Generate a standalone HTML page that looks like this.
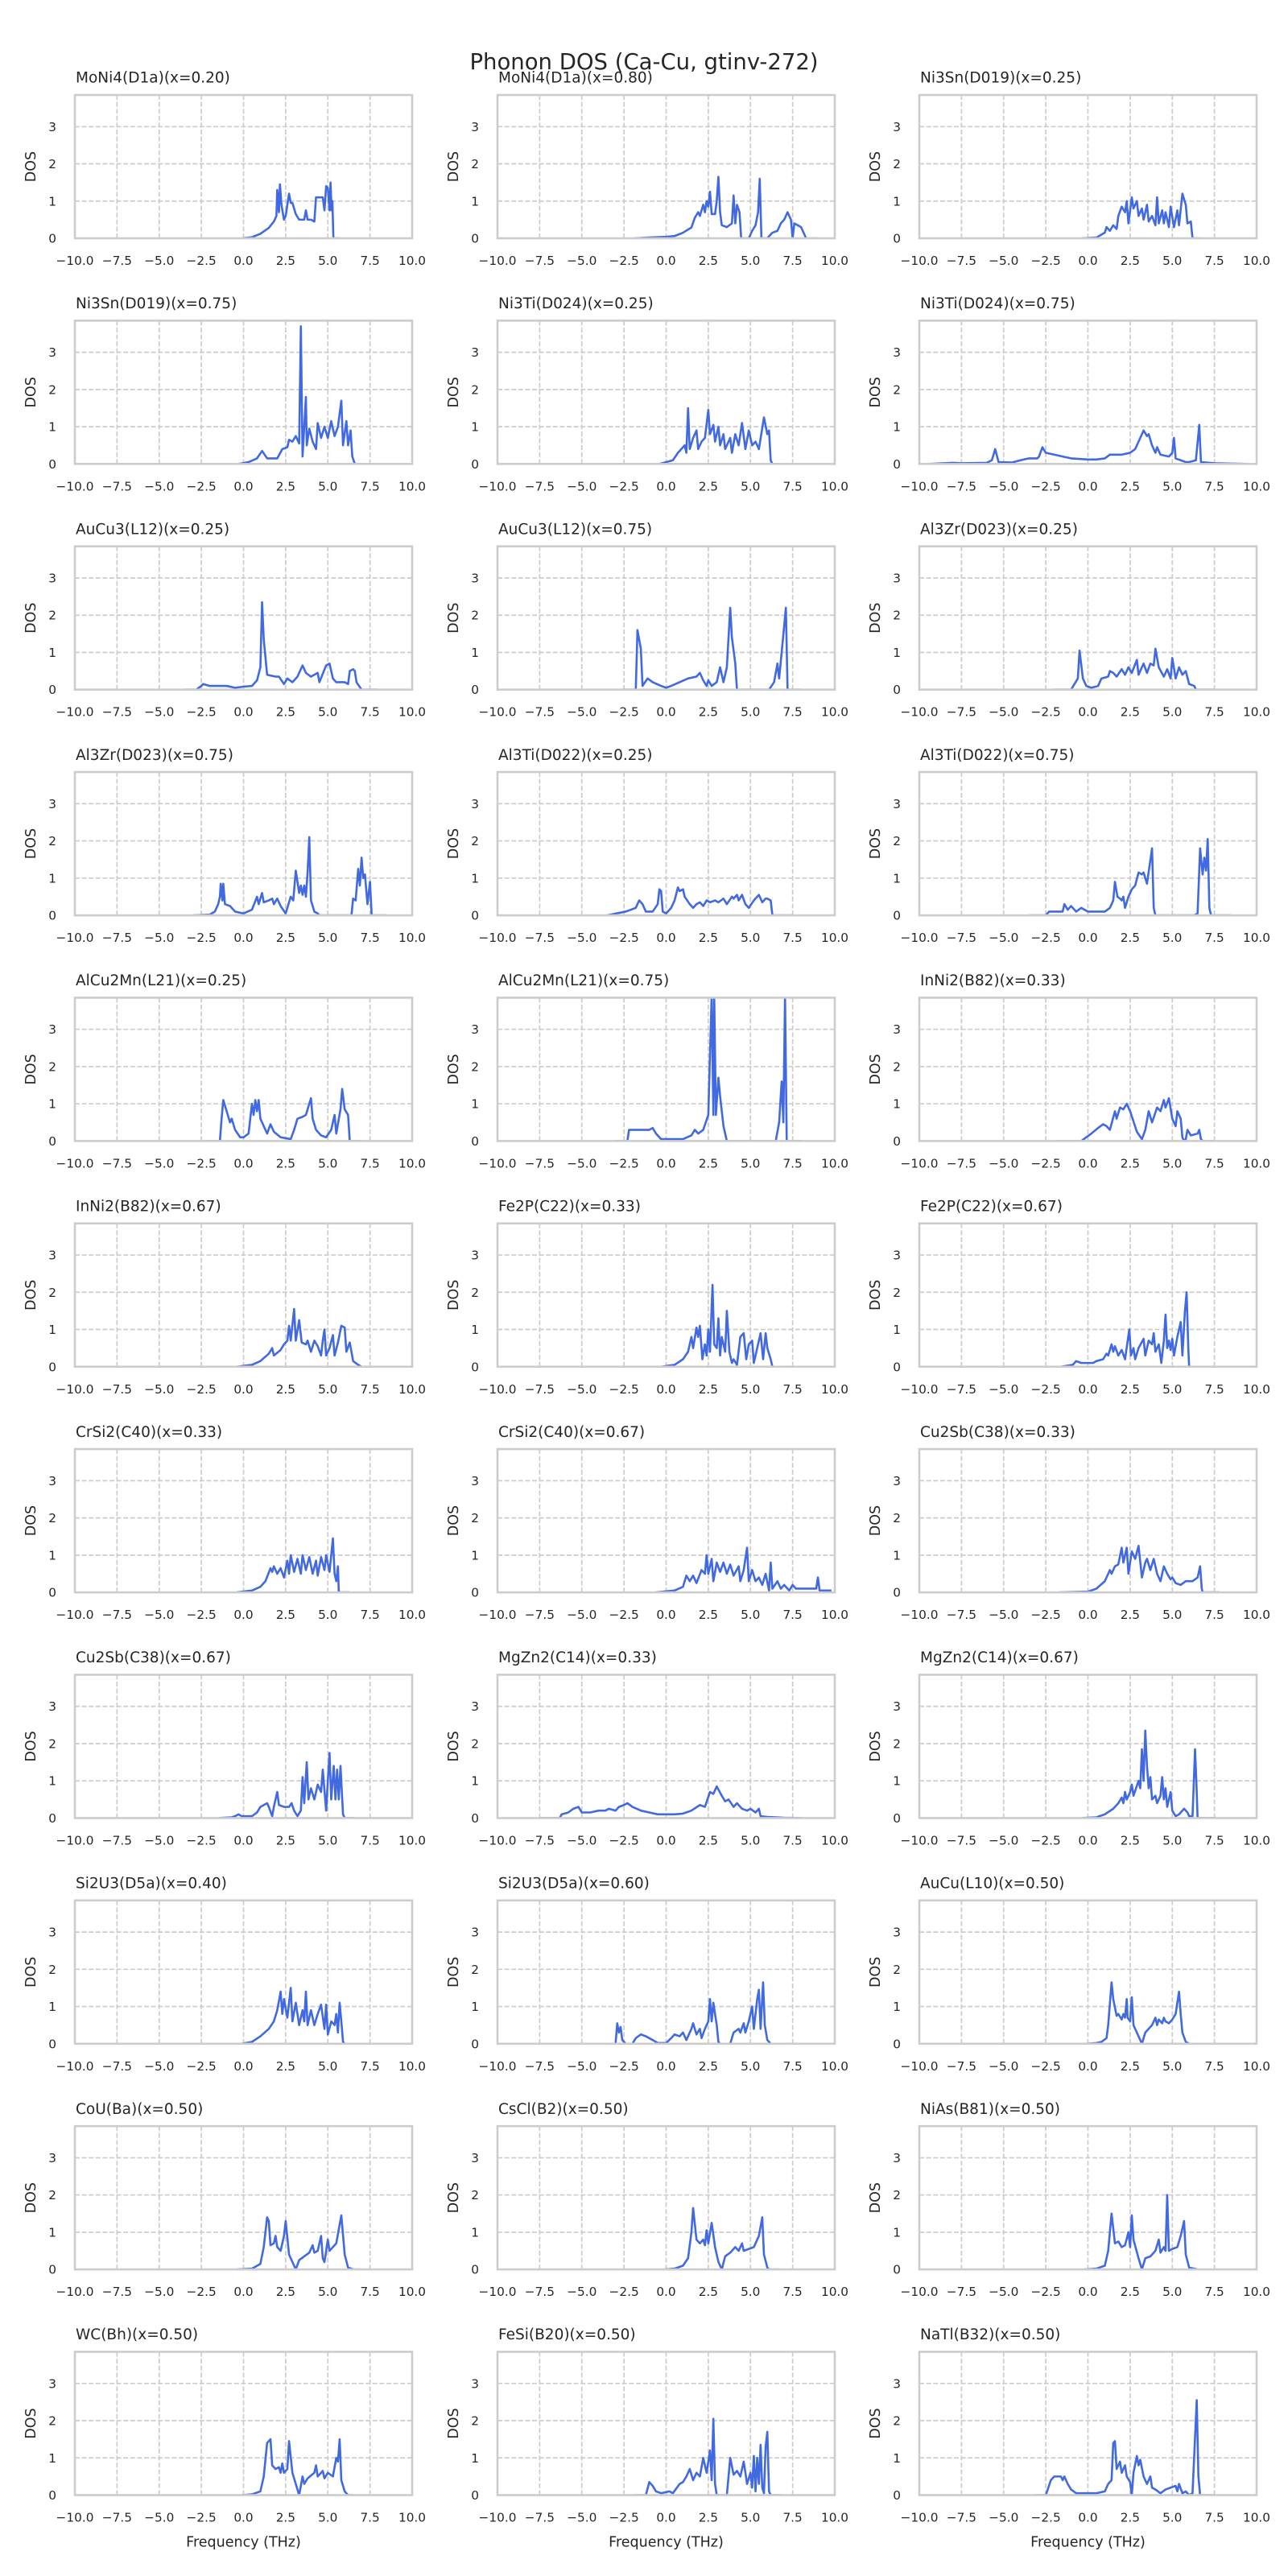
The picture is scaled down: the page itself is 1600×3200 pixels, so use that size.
<!DOCTYPE html>
<html>
<head>
<meta charset="utf-8">
<style>
html,body{margin:0;padding:0;background:#fff;}
svg{display:block;font-family:"DejaVu Sans","Liberation Sans",sans-serif;}
</style>
</head>
<body>
<svg id="fig" width="1600" height="3200" viewBox="0 0 1600 3200" xmlns="http://www.w3.org/2000/svg">
<rect x="0" y="0" width="1600" height="3200" fill="#ffffff"/>
<text x="800" y="86" text-anchor="middle" font-size="27.5" fill="#262626">Phonon DOS (Ca-Cu, gtinv-272)</text>
</svg>
<script>
const titles = [
"MoNi4(D1a)(x=0.20)","MoNi4(D1a)(x=0.80)","Ni3Sn(D019)(x=0.25)",
"Ni3Sn(D019)(x=0.75)","Ni3Ti(D024)(x=0.25)","Ni3Ti(D024)(x=0.75)",
"AuCu3(L12)(x=0.25)","AuCu3(L12)(x=0.75)","Al3Zr(D023)(x=0.25)",
"Al3Zr(D023)(x=0.75)","Al3Ti(D022)(x=0.25)","Al3Ti(D022)(x=0.75)",
"AlCu2Mn(L21)(x=0.25)","AlCu2Mn(L21)(x=0.75)","InNi2(B82)(x=0.33)",
"InNi2(B82)(x=0.67)","Fe2P(C22)(x=0.33)","Fe2P(C22)(x=0.67)",
"CrSi2(C40)(x=0.33)","CrSi2(C40)(x=0.67)","Cu2Sb(C38)(x=0.33)",
"Cu2Sb(C38)(x=0.67)","MgZn2(C14)(x=0.33)","MgZn2(C14)(x=0.67)",
"Si2U3(D5a)(x=0.40)","Si2U3(D5a)(x=0.60)","AuCu(L10)(x=0.50)",
"CoU(Ba)(x=0.50)","CsCl(B2)(x=0.50)","NiAs(B81)(x=0.50)",
"WC(Bh)(x=0.50)","FeSi(B20)(x=0.50)","NaTl(B32)(x=0.50)"
];
const xTicks = [-10,-7.5,-5,-2.5,0,2.5,5,7.5,10];
const xTickLabels = ["\u221210.0","\u22127.5","\u22125.0","\u22122.5","0.0","2.5","5.0","7.5","10.0"];
const yTicks = [0,1,2,3];
const yTickLabels = ["0","1","2","3"];
const xDomain = [-10,10];
const yDomain = [0,3.85];
const dosData = [
[[-0.1,0],[0.5,0.03],[1,0.12],[1.5,0.28],[1.8,0.45],[1.95,0.6],[2,1.3],[2.1,0.7],[2.16,1.45],[2.25,0.9],[2.4,0.5],[2.5,0.6],[2.7,1.2],[2.8,0.95],[2.9,0.95],[3.1,0.65],[3.3,0.5],[3.6,0.5],[3.7,0.75],[3.8,0.5],[4,0.5],[4.2,0.45],[4.3,1.1],[4.5,1.1],[4.7,1.1],[4.8,0.75],[4.9,1.4],[5,1.35],[5.1,0.75],[5.16,1.5],[5.22,0.75],[5.27,1],[5.33,0],[5.7,0]],
[[-1.9,0],[-1,0.02],[0,0.04],[0.5,0.06],[1,0.15],[1.5,0.29],[1.7,0.55],[1.9,0.7],[2,0.6],[2.2,0.9],[2.3,0.7],[2.4,1],[2.5,0.85],[2.6,1.25],[2.7,0.65],[2.9,0.65],[3,1],[3.1,1.65],[3.2,0.7],[3.3,0.35],[3.6,0.3],[3.9,0.4],[4,1.15],[4.1,0.4],[4.2,0.9],[4.35,0.7],[4.45,0],[4.9,0],[5.1,0.2],[5.3,0.35],[5.45,0.7],[5.55,1.6],[5.65,0],[6,0],[6.3,0.15],[6.6,0.2],[6.8,0.4],[7,0.5],[7.2,0.7],[7.4,0.5],[7.5,0],[7.6,0.4],[7.8,0.35],[8,0.3],[8.2,0.1],[8.3,0],[9,0]],
[[-0.4,0],[0.5,0.02],[1,0.15],[1.1,0.3],[1.3,0.2],[1.5,0.35],[1.7,0.25],[1.8,0.6],[2,0.85],[2.2,0.7],[2.3,1],[2.4,0.4],[2.6,1.1],[2.7,0.8],[2.9,1],[3,0.6],[3.2,0.8],[3.3,0.5],[3.5,0.9],[3.6,0.45],[3.8,0.6],[4,0.35],[4.1,1.1],[4.2,0.4],[4.4,0.75],[4.5,0.4],[4.6,0.7],[4.8,0.3],[4.9,0.85],[5.1,0.3],[5.3,0.75],[5.4,0.35],[5.6,1.2],[5.8,0.9],[5.9,0.4],[6.1,0.45],[6.2,0],[6.6,0]],
[[-0.3,0],[0.3,0.05],[0.8,0.15],[1.1,0.35],[1.4,0.15],[2,0.15],[2.3,0.4],[2.6,0.45],[2.7,0.65],[2.9,0.6],[3.1,0.75],[3.3,0.55],[3.4,3.7],[3.5,0.2],[3.7,1.8],[3.75,0.5],[3.9,0.95],[4.1,0.6],[4.3,0.4],[4.4,1.1],[4.6,0.7],[4.8,1],[5,0.7],[5.2,1.15],[5.4,0.75],[5.6,1],[5.8,1.7],[5.9,0.5],[6.1,1.15],[6.2,0.5],[6.35,0.9],[6.45,0.2],[6.6,0],[7.2,0]],
[[-0.4,0],[0.4,0.1],[0.7,0.3],[0.9,0.4],[1.1,0.5],[1.2,0.3],[1.3,1.5],[1.4,0.4],[1.6,0.7],[1.8,0.9],[1.9,0.4],[2.1,0.6],[2.3,0.7],[2.5,1.45],[2.6,0.8],[2.8,1.05],[2.9,0.6],[3.1,1],[3.2,0.5],[3.4,0.8],[3.5,0.4],[3.8,0.7],[3.9,0.3],[4.1,0.8],[4.3,0.5],[4.5,1.1],[4.7,0.4],[4.9,0.9],[5.1,0.5],[5.3,0.6],[5.5,0.4],[5.8,1.25],[6,0.8],[6.1,0.9],[6.2,0.1],[6.3,0],[6.8,0]],
[[-9.4,0],[-8,0.03],[-7.5,0.02],[-6,0.03],[-5.7,0.1],[-5.5,0.4],[-5.3,0.05],[-4.5,0.04],[-4,0.1],[-3.5,0.15],[-3,0.15],[-2.9,0.2],[-2.7,0.45],[-2.5,0.3],[-2,0.25],[-1.5,0.2],[-1,0.15],[0,0.12],[0.5,0.12],[1,0.15],[1.3,0.25],[2,0.25],[2.5,0.3],[2.8,0.4],[3,0.6],[3.2,0.8],[3.3,0.9],[3.5,0.75],[3.6,0.8],[3.8,0.5],[4,0.3],[4.1,0.45],[4.3,0.25],[4.8,0.2],[5,0.3],[5.1,0.7],[5.2,0.15],[5.5,0.1],[5.8,0.05],[6,0.05],[6.4,0.1],[6.6,1.05],[6.7,0.05],[7.5,0.02],[9.5,0]],
[[-3.5,0],[-2.8,0],[-2.5,0.1],[-2.4,0.15],[-2,0.1],[-1,0.1],[-0.5,0.05],[0,0.08],[0.5,0.1],[0.8,0.25],[1,0.6],[1.1,2.35],[1.2,1.35],[1.4,0.4],[1.9,0.35],[2.1,0.35],[2.4,0.15],[2.6,0.3],[2.9,0.2],[3.2,0.35],[3.5,0.65],[3.7,0.45],[4,0.35],[4.4,0.45],[4.5,0.2],[4.9,0.65],[5.1,0.7],[5.3,0.3],[5.5,0.2],[6,0.2],[6.2,0.15],[6.3,0.5],[6.5,0.55],[6.6,0.5],[6.7,0.2],[7,0],[8,0]],
[[-2.6,0],[-1.8,0],[-1.7,1.6],[-1.5,1.1],[-1.4,0.1],[-1.1,0.3],[-0.8,0.2],[-0.3,0.1],[0,0.05],[0.3,0.1],[0.8,0.2],[1.3,0.3],[1.8,0.35],[2,0.45],[2.2,0.25],[2.4,0.1],[2.5,0.25],[2.7,0.1],[3,0.2],[3.2,0.6],[3.4,0.2],[3.6,0.6],[3.8,2.2],[3.9,1.4],[4.1,0.7],[4.2,0],[6.1,0],[6.4,0.2],[6.6,0.7],[6.7,0.3],[6.85,1],[7.1,2.2],[7.2,0],[8,0]],
[[-2,0],[-1,0],[-0.6,0.3],[-0.5,1.05],[-0.3,0.3],[-0.1,0.1],[0.2,0.05],[0.6,0.1],[0.8,0.3],[1.2,0.35],[1.3,0.5],[1.5,0.45],[1.7,0.35],[2,0.55],[2.2,0.4],[2.4,0.6],[2.6,0.45],[2.9,0.8],[3,0.4],[3.3,0.7],[3.5,0.45],[3.7,0.7],[3.9,0.65],[4,1.1],[4.2,0.6],[4.5,0.35],[4.7,0.55],[4.9,0.3],[5,0.85],[5.2,0.3],[5.4,0.6],[5.6,0.4],[5.8,0.5],[6,0.15],[6.3,0.1],[6.4,0],[7.5,0]],
[[-3,0],[-2,0.02],[-1.7,0.1],[-1.5,0.3],[-1.4,0.5],[-1.35,0.85],[-1.25,0.4],[-1.2,0.85],[-1.1,0.3],[-0.8,0.25],[-0.5,0.1],[0,0.05],[0.5,0.15],[0.8,0.5],[0.9,0.3],[1.1,0.6],[1.2,0.35],[1.5,0.4],[1.7,0.45],[1.8,0.3],[2,0.45],[2.2,0.25],[2.5,0.05],[2.8,0.5],[2.95,0.4],[3.1,1.2],[3.3,0.6],[3.4,0.8],[3.5,0.55],[3.6,0.8],[3.7,0.5],[3.8,1.15],[3.9,2.1],[4,0.4],[4.2,0.1],[4.4,0.05],[4.5,0],[6.4,0],[6.5,0.45],[6.65,0.4],[6.8,1.25],[6.9,0.8],[7,1.55],[7.1,1],[7.2,1.1],[7.35,0.3],[7.5,0.9],[7.6,0],[8.5,0]],
[[-3.5,0],[-2.4,0.1],[-1.8,0.2],[-1.6,0.4],[-1.4,0.3],[-1.2,0.1],[-0.8,0.1],[-0.5,0.3],[-0.4,0.7],[-0.3,0.65],[-0.2,0.1],[0,0.05],[0.3,0.2],[0.5,0.4],[0.7,0.75],[0.8,0.65],[1,0.7],[1.1,0.5],[1.4,0.3],[1.6,0.2],[1.8,0.3],[2,0.35],[2.2,0.25],[2.4,0.4],[2.6,0.35],[2.9,0.4],[3.1,0.35],[3.4,0.45],[3.6,0.3],[3.9,0.5],[4,0.45],[4.2,0.55],[4.3,0.4],[4.5,0.55],[4.7,0.3],[4.9,0.2],[5.2,0.4],[5.5,0.55],[5.7,0.35],[5.9,0.45],[6,0.45],[6.2,0.4],[6.3,0],[7.5,0]],
[[-3.5,0],[-2.5,0],[-2.3,0.1],[-2,0.1],[-1.5,0.1],[-1.4,0.3],[-1.2,0.15],[-1,0.25],[-0.7,0.1],[-0.4,0.2],[0,0.1],[0.5,0.1],[1,0.1],[1.3,0.2],[1.5,0.4],[1.6,0.9],[1.75,0.5],[1.9,0.45],[2,0.4],[2.1,0.5],[2.2,0.2],[2.4,0.5],[2.6,0.7],[2.8,0.8],[3,1.15],[3.2,1.1],[3.3,1.15],[3.5,0.85],[3.8,1.8],[3.9,0.2],[4,0],[6.3,0],[6.5,0.05],[6.65,1.8],[6.8,1.1],[6.9,1.55],[7,1.2],[7.1,2.05],[7.2,0.2],[7.3,0],[8.5,0]],
[[-2.3,0],[-1.4,0],[-1.3,0.6],[-1.2,1.1],[-1,0.8],[-0.8,0.5],[-0.7,0.6],[-0.5,0.3],[-0.2,0.1],[0,0.1],[0.3,0.2],[0.5,1],[0.6,0.7],[0.7,1.1],[0.8,0.8],[0.9,1.1],[1,0.6],[1.2,0.4],[1.4,0.2],[1.6,0.45],[1.8,0.25],[2.2,0.1],[2.8,0.05],[3,0.3],[3.2,0.6],[3.5,0.65],[3.7,0.7],[4,1.15],[4.1,0.6],[4.3,0.3],[4.6,0.15],[4.9,0.1],[5.2,0.3],[5.4,0.7],[5.5,0.2],[5.75,0.85],[5.85,1.4],[6,0.85],[6.2,0.7],[6.3,0],[7,0]],
[[-3.1,0],[-2.3,0],[-2.2,0.3],[-1.5,0.3],[-1,0.3],[-0.8,0.35],[-0.6,0.2],[-0.3,0.05],[0.3,0.05],[1,0.05],[1.5,0.15],[1.7,0.3],[1.9,0.2],[2.2,0.3],[2.5,0.7],[2.7,3.9],[2.8,0.7],[2.85,3.9],[2.95,0.7],[3.1,1.7],[3.2,1.2],[3.4,0.4],[3.6,0],[6.5,0],[6.7,0.5],[6.85,1.6],[6.95,0.5],[7.05,3.9],[7.15,0],[8.1,0]],
[[-1.9,0],[-0.4,0],[0.2,0.2],[0.6,0.35],[0.9,0.45],[1.1,0.4],[1.3,0.3],[1.6,0.8],[1.7,0.6],[1.9,0.9],[2.1,0.85],[2.3,1],[2.5,0.8],[2.9,0.25],[3.2,0.05],[3.4,0.3],[3.6,0.8],[3.8,0.5],[4.1,0.9],[4.3,0.8],[4.5,1.1],[4.6,0.9],[4.8,1.15],[5,0.6],[5.2,0.4],[5.3,0.8],[5.5,0.6],[5.6,0.1],[5.7,0],[5.8,0.05],[5.9,0.3],[6.1,0.15],[6.5,0.2],[6.6,0.3],[6.7,0.05],[6.8,0],[7.5,0]],
[[-0.4,0],[0.5,0.05],[1,0.15],[1.5,0.35],[1.7,0.5],[1.8,0.3],[2.2,0.45],[2.4,0.6],[2.6,0.7],[2.7,1.1],[2.8,0.7],[3,1.55],[3.1,0.7],[3.3,1.25],[3.45,0.65],[3.7,0.6],[3.8,0.7],[4,0.4],[4.2,0.7],[4.4,0.55],[4.6,0.3],[4.7,0.7],[4.8,1],[4.9,0.3],[5.1,0.5],[5.3,0.85],[5.4,0.3],[5.6,0.65],[5.8,1.1],[6,1.05],[6.1,0.4],[6.3,0.65],[6.5,0.15],[6.8,0.05],[7,0],[7.5,0]],
[[-0.3,0],[0.5,0.05],[1,0.2],[1.3,0.4],[1.5,0.8],[1.6,0.5],[1.8,1.05],[1.9,0.8],[2,1.1],[2.15,0.2],[2.3,0.6],[2.4,0.3],[2.5,1],[2.6,0.4],[2.75,2.2],[2.85,0.6],[3,0.5],[3.1,1.3],[3.2,0.3],[3.3,0.8],[3.5,0.4],[3.6,1.5],[3.75,0.4],[3.9,0.1],[4,0.2],[4.2,0.05],[4.4,0.8],[4.6,0.9],[4.75,0.2],[4.9,0.6],[5.1,0.7],[5.2,0.1],[5.4,0.5],[5.6,0.9],[5.75,0.2],[5.9,0.9],[6,0.5],[6.2,0.2],[6.3,0],[7,0]],
[[-1.6,0],[-0.9,0.05],[-0.7,0.15],[-0.4,0.1],[0,0.1],[0.3,0.1],[0.5,0.15],[0.9,0.2],[1.1,0.35],[1.2,0.3],[1.4,0.6],[1.5,0.4],[1.6,0.55],[1.8,0.3],[2,0.45],[2.2,0.2],[2.45,1],[2.55,0.3],[2.7,0.5],[2.8,0.2],[3,0.5],[3.3,0.75],[3.4,0.3],[3.6,0.7],[3.8,0.6],[3.9,0.9],[4,0.4],[4.2,0.6],[4.35,0.1],[4.5,0.7],[4.6,1.4],[4.7,0.5],[4.8,0.7],[4.9,0.45],[5,0.75],[5.1,0.3],[5.3,0.8],[5.5,1.2],[5.6,0.3],[5.75,1.5],[5.85,2],[5.95,0.5],[6,0],[7,0]],
[[-0.4,0],[0.5,0.05],[1,0.15],[1.3,0.3],[1.6,0.65],[1.7,0.55],[1.8,0.7],[2,0.5],[2.2,0.65],[2.4,0.4],[2.6,0.85],[2.7,0.5],[2.8,1],[3,0.55],[3.2,0.9],[3.4,0.5],[3.5,1],[3.7,0.6],[3.9,0.95],[4.1,0.5],[4.3,0.85],[4.4,0.45],[4.6,0.95],[4.8,0.6],[4.9,1],[5.1,0.55],[5.3,1.45],[5.4,0.5],[5.5,0.3],[5.6,0.7],[5.65,0],[6.3,0]],
[[-0.6,0],[0.5,0.05],[1,0.15],[1.2,0.45],[1.4,0.3],[1.6,0.45],[1.8,0.25],[2.1,0.6],[2.3,0.5],[2.4,1],[2.5,0.5],[2.7,0.9],[2.8,0.3],[3,0.8],[3.2,0.55],[3.4,0.8],[3.6,0.5],[3.8,0.75],[4,0.45],[4.3,0.7],[4.4,0.3],[4.6,0.6],[4.8,1.2],[4.9,0.3],[5.1,0.6],[5.3,0.3],[5.5,0.4],[5.7,0.2],[5.9,0.5],[6.1,0.05],[6.2,0.8],[6.3,0.1],[6.6,0.3],[6.8,0.1],[7,0.2],[7.2,0.1],[7.3,0.05],[7.5,0.2],[7.7,0.1],[8,0.1],[8.5,0.1],[8.9,0.1],[9,0.4],[9.1,0.05],[9.8,0.05]],
[[-1.7,0],[0,0.02],[0.5,0.1],[1,0.3],[1.3,0.6],[1.4,0.5],[1.6,0.7],[1.8,0.75],[2,1.2],[2.1,0.8],[2.3,1.2],[2.4,0.5],[2.6,1.1],[2.8,0.9],[3,1.25],[3.2,0.4],[3.4,0.8],[3.5,0.9],[3.7,0.6],[3.9,0.9],[4.1,0.5],[4.3,0.3],[4.5,0.7],[4.7,0.5],[4.9,0.35],[5,0.4],[5.2,0.25],[5.5,0.2],[5.8,0.3],[6.2,0.3],[6.5,0.4],[6.65,0.7],[6.75,0.1],[6.8,0],[7.8,0]],
[[-1.5,0],[-0.7,0.02],[-0.5,0.05],[-0.3,0.1],[-0.1,0.05],[0.5,0.05],[0.8,0.15],[1,0.3],[1.2,0.35],[1.4,0.4],[1.5,0.3],[1.7,0.05],[1.8,0.3],[2,0.7],[2.1,0.35],[2.4,0.3],[2.7,0.3],[2.85,0.4],[3,0.2],[3.2,0.05],[3.4,0.2],[3.5,1.1],[3.6,0.4],[3.75,1.5],[3.85,0.5],[4,0.8],[4.2,0.5],[4.4,0.9],[4.6,0.7],[4.7,1.3],[4.9,0.2],[5,1],[5.1,1.75],[5.2,0.5],[5.35,1.4],[5.45,0.5],[5.55,1.3],[5.65,0.5],[5.75,1.4],[5.9,0.1],[6,0],[6.6,0]],
[[-7.5,0],[-6.3,0],[-6.2,0.1],[-5.8,0.15],[-5.5,0.25],[-5.2,0.3],[-5,0.15],[-4.5,0.15],[-4,0.2],[-3.6,0.2],[-3.4,0.25],[-3,0.2],[-2.8,0.3],[-2.5,0.35],[-2.3,0.4],[-2,0.3],[-1.5,0.2],[-1,0.15],[-0.5,0.1],[0.5,0.1],[1,0.12],[1.5,0.2],[2,0.35],[2.3,0.3],[2.6,0.7],[2.8,0.65],[3,0.85],[3.3,0.6],[3.5,0.45],[3.7,0.5],[4,0.3],[4.2,0.4],[4.5,0.25],[4.8,0.2],[5,0.25],[5.3,0.15],[5.5,0.25],[5.6,0.05],[6,0.03],[7,0.01],[8,0]],
[[-0.4,0],[0.5,0.02],[1,0.1],[1.5,0.25],[1.8,0.4],[2,0.55],[2.1,0.4],[2.2,0.7],[2.3,0.5],[2.5,0.7],[2.6,0.9],[2.7,0.6],[3,1],[3.1,0.8],[3.2,1.85],[3.3,1],[3.4,2.35],[3.5,1.4],[3.6,0.8],[3.7,1.1],[3.8,0.5],[4,0.6],[4.1,0.4],[4.3,0.6],[4.4,1.1],[4.5,0.5],[4.6,0.8],[4.7,0.3],[4.9,0.7],[5,0.2],[5.2,0.05],[5.4,0.1],[5.7,0.25],[5.9,0.15],[6,0.05],[6.2,0.05],[6.35,1.85],[6.45,0.7],[6.5,0],[7.5,0]],
[[-0.1,0],[0.5,0.05],[1,0.2],[1.5,0.4],[1.8,0.6],[2,0.9],[2.2,1.4],[2.3,0.8],[2.4,1.2],[2.6,0.7],[2.8,1.5],[2.9,0.6],[3.1,1.1],[3.3,0.5],[3.5,0.9],[3.6,0.6],[3.7,1.4],[3.8,0.5],[4,0.9],[4.2,0.5],[4.4,0.8],[4.6,1.05],[4.8,0.4],[4.9,1.05],[5,0.25],[5.2,0.6],[5.4,0.5],[5.5,0.8],[5.6,0.3],[5.7,1.1],[5.8,0.6],[5.9,0.05],[6,0],[6.5,0]],
[[-3.8,0],[-3,0],[-2.9,0.55],[-2.8,0.3],[-2.7,0.45],[-2.6,0.1],[-2.4,0],[-2,0],[-1.8,0.15],[-1.5,0.25],[-1.2,0.2],[-0.8,0.1],[-0.5,0.02],[0,0.02],[0.3,0.15],[0.5,0.25],[0.8,0.2],[1,0.3],[1.2,0.1],[1.5,0.4],[1.6,0.55],[1.8,0.25],[2,0.4],[2.1,0.15],[2.3,0.4],[2.5,0.6],[2.6,1.2],[2.7,0.6],[2.8,1.1],[3,0.5],[3.1,0.05],[3.2,0],[3.8,0],[4,0.3],[4.3,0.4],[4.4,0.3],[4.6,0.55],[4.7,0.3],[4.9,0.6],[5.1,1],[5.2,0.4],[5.4,1.2],[5.5,1.45],[5.6,0.4],[5.75,1.65],[5.85,0.5],[6,0.1],[6.2,0],[7,0]],
[[-0.1,0],[0.5,0.02],[0.8,0.05],[1.1,0.15],[1.2,0.5],[1.4,1.65],[1.5,1.2],[1.7,0.75],[1.8,0.8],[2,0.65],[2.1,0.8],[2.2,0.7],[2.3,1.2],[2.35,0.7],[2.5,0.6],[2.6,1.25],[2.7,0.5],[3,0.2],[3.2,0],[3.4,0.3],[3.6,0.4],[3.8,0.5],[4,0.7],[4.1,0.5],[4.2,0.65],[4.4,0.55],[4.5,0.7],[4.6,0.6],[4.8,0.55],[5,0.65],[5.2,0.8],[5.4,1.4],[5.5,0.8],[5.6,0.3],[5.8,0.05],[6,0],[6.5,0]],
[[-0.4,0],[0.5,0.02],[1,0.15],[1.2,0.6],[1.4,1.4],[1.5,1.3],[1.6,0.65],[1.8,0.7],[1.9,0.9],[2,0.6],[2.2,0.5],[2.4,0.9],[2.5,1.3],[2.7,0.4],[2.9,0.2],[3.1,0],[3.3,0.25],[3.6,0.35],[3.9,0.45],[4.1,0.65],[4.2,0.45],[4.4,0.5],[4.6,0.9],[4.7,0.3],[4.8,0.2],[5,0.8],[5.1,0.5],[5.5,0.7],[5.8,1.45],[6,0.4],[6.2,0.05],[6.5,0],[7,0]],
[[-0.1,0],[0.5,0.02],[1,0.1],[1.3,0.3],[1.5,1],[1.6,1.65],[1.8,0.8],[2,0.7],[2.2,0.8],[2.3,0.65],[2.4,1.05],[2.5,0.7],[2.7,1.25],[2.9,0.6],[3.1,0.2],[3.3,0],[3.5,0.35],[3.8,0.45],[4.1,0.6],[4.3,0.5],[4.5,0.7],[4.6,0.5],[4.9,0.55],[5.2,0.6],[5.5,0.9],[5.7,1.4],[5.8,0.4],[6,0.05],[6.1,0],[6.7,0]],
[[-0.2,0],[0.5,0.02],[1,0.1],[1.2,0.5],[1.4,1.5],[1.5,1.1],[1.6,0.7],[1.8,0.75],[2,0.6],[2.2,0.65],[2.4,1],[2.5,0.6],[2.6,1.45],[2.7,0.8],[3,0.3],[3.2,0],[3.4,0.3],[3.7,0.35],[4,0.5],[4.2,0.8],[4.3,0.45],[4.5,0.6],[4.6,0.5],[4.7,2],[4.8,0.5],[5,0.55],[5.3,0.6],[5.5,0.9],[5.7,1.3],[5.8,0.4],[6,0.05],[6.5,0]],
[[-0.1,0],[0.5,0.02],[1,0.1],[1.2,0.5],[1.4,1.4],[1.6,1.5],[1.7,0.8],[1.9,0.7],[2.1,0.75],[2.2,0.6],[2.3,0.85],[2.4,0.6],[2.6,0.7],[2.7,1.45],[2.9,0.6],[3.1,0.3],[3.3,0],[3.5,0.5],[3.6,0.3],[3.8,0.45],[4.2,0.6],[4.3,0.8],[4.4,0.5],[4.7,0.65],[4.8,0.45],[5,0.6],[5.3,0.5],[5.5,1],[5.6,0.9],[5.7,1.5],[5.8,0.4],[6,0.1],[6.2,0],[6.5,0]],
[[-1.9,0],[-1.2,0],[-1,0.35],[-0.8,0.25],[-0.6,0.1],[-0.3,0.05],[0.2,0.1],[0.4,0.05],[0.8,0.3],[1,0.35],[1.2,0.5],[1.4,0.7],[1.6,0.4],[1.8,0.6],[2,0.5],[2.2,1],[2.4,0.6],[2.6,1.2],[2.7,0.4],[2.8,2.05],[2.9,0.3],[3,0],[3.6,0],[3.8,1],[4,0.55],[4.2,0.65],[4.4,0.5],[4.6,0.9],[4.8,0.3],[5,0.6],[5.1,0.2],[5.2,1.05],[5.3,0.1],[5.4,1],[5.5,0.3],[5.6,1.35],[5.7,0.2],[5.8,0.05],[5.9,1.3],[6,1.7],[6.1,0.1],[6.2,0],[6.9,0]],
[[-3.2,0],[-2.5,0],[-2.2,0.4],[-2,0.5],[-1.6,0.5],[-1.5,0.4],[-1.4,0.5],[-1.2,0.3],[-1,0.15],[-0.7,0.05],[0,0.05],[0.5,0.05],[1,0.1],[1.2,0.3],[1.4,0.4],[1.5,1.4],[1.6,1.45],[1.7,0.7],[1.9,0.9],[2,0.6],[2.2,0.8],[2.3,0.5],[2.5,0.35],[2.6,0],[2.7,0.6],[2.9,1.05],[3,0.8],[3.1,0.95],[3.3,0.5],[3.5,0.3],[3.7,0.5],[3.8,0.2],[4,0.15],[4.3,0.05],[4.6,0.15],[4.9,0.2],[5.2,0.25],[5.3,0.1],[5.4,0.3],[5.6,0.05],[5.8,0.1],[6,0],[6.2,0.05],[6.45,2.55],[6.55,0.5],[6.65,0],[7.5,0]]
];

const NS = "http://www.w3.org/2000/svg";
const svg = document.getElementById('fig');
const colLeft = [93, 618, 1142];
const colWidth = [419, 419, 419];
const axTop0 = 118, rowPitch = 280.35, axHeight = 178;
const gridColor = "#cccccc", textColor = "#262626", lineColor = "#4169e1";

function mk(tag, attrs, parent) {
  const e = document.createElementNS(NS, tag);
  for (const k in attrs) e.setAttribute(k, attrs[k]);
  parent.appendChild(e);
  return e;
}

titles.forEach((title, i) => {
  const r = Math.floor(i / 3), c = i % 3;
  const L = colLeft[c], W = colWidth[c];
  const T = axTop0 + r * rowPitch, B = T + axHeight;
  const sx = v => L + (v - xDomain[0]) / (xDomain[1] - xDomain[0]) * W;
  const sy = v => B - (v - yDomain[0]) / (yDomain[1] - yDomain[0]) * axHeight;

  const g = mk('g', {}, svg);
  
  

  const bg = mk('rect', {x: L, y: T, width: W, height: axHeight, fill: '#fff'}, g);
  
  

  xTicks.forEach((t, k) => {
    const gl = mk('line', {x1: sx(t), x2: sx(t), y1: T, y2: B, stroke: gridColor, 'stroke-width': 1.7, 'stroke-dasharray': '6,2.6'}, g);
    
    
    const tl = mk('text', {x: sx(t), y: B + 33, 'text-anchor': 'middle', 'font-size': 15.3, fill: textColor}, g);
    tl.textContent = xTickLabels[k];
    
    
  });
  yTicks.forEach((t, k) => {
    const gl = mk('line', {x1: L, x2: L + W, y1: sy(t), y2: sy(t), stroke: gridColor, 'stroke-width': 1.7, 'stroke-dasharray': '6,2.6'}, g);
    
    
    const tl = mk('text', {x: L - 23, y: sy(t) + 5.5, 'text-anchor': 'end', 'font-size': 15.3, fill: textColor}, g);
    tl.textContent = yTickLabels[k];
    
    
  });

  const pts = dosData[i].map(p => sx(p[0]).toFixed(2) + ',' + sy(Math.min(p[1], yDomain[1] + 0.1)).toFixed(2)).join(' ');
  const cp = mk('clipPath', {id: 'clip' + i}, g);
  mk('rect', {x: L, y: T, width: W, height: axHeight}, cp);
  const pl = mk('polyline', {points: pts, fill: 'none', stroke: lineColor, 'stroke-width': 2.6, 'stroke-linejoin': 'round', 'clip-path': 'url(#clip' + i + ')'}, g);
  
  

  const fr = mk('rect', {x: L, y: T, width: W, height: axHeight, fill: 'none', stroke: gridColor, 'stroke-width': 2.6}, g);
  
  

  const tt = mk('text', {x: L + 1, y: T - 15.3, 'font-size': 18.5, fill: textColor}, g);
  tt.textContent = title;
  
  

  const cy = (T + B) / 2, cx = L - 49;
  const yl = mk('text', {x: cx, y: cy, 'text-anchor': 'middle', 'font-size': 17.5, fill: textColor, transform: 'rotate(-90 ' + cx + ' ' + cy + ')'}, g);
  yl.textContent = 'DOS';
  
  

  if (r === 10) {
    const xl = mk('text', {x: L + W / 2, y: B + 64, 'text-anchor': 'middle', 'font-size': 17.5, fill: textColor}, g);
    xl.textContent = 'Frequency (THz)';
    
    
  }
});
</script>
</body>
</html>
